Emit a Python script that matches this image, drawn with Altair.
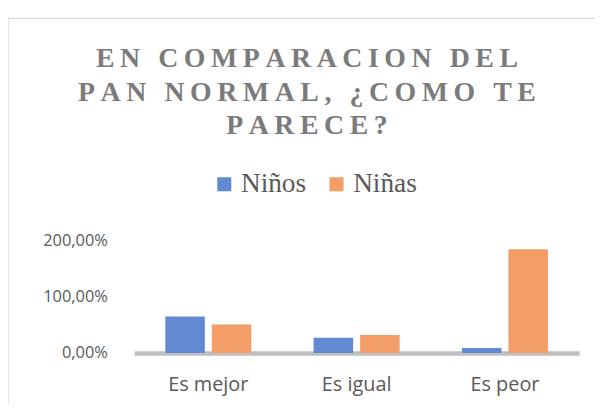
import altair as alt
import pandas as pd

categorias = ["Es mejor", "Es igual", "Es peor"]
series = ["Niños", "Niñas"]
ninos = [0.65, 0.27, 0.09]
ninas = [0.51, 0.32, 1.85]
ticks = [0, 1, 2]
titulo = ["EN COMPARACION DEL", "PAN NORMAL, ¿COMO TE", "PARECE?"]
colores = ["#628ad2", "#f29e66"]

TS = "\u2009"
def spaced(s):
    return TS.join(list(s))

rows = []
for c, a, b in zip(categorias, ninos, ninas):
    rows.append({"cat": c, "serie": series[0], "val": a})
    rows.append({"cat": c, "serie": series[1], "val": b})
df = pd.DataFrame(rows)
one = pd.DataFrame({"k": [0]})

border = alt.Chart(one).mark_rect(filled=False, stroke="#d9d9d9", strokeWidth=1.3).encode(
    x=alt.value(-127), x2=alt.value(620), y=alt.value(-224), y2=alt.value(300)
)

title = alt.Chart(one).mark_text(
    text=[spaced(t) for t in titulo],
    font="Liberation Serif", fontWeight="bold", fontSize=28, lineHeight=34,
    color="#7b7b7b", align="center", baseline="alphabetic"
).encode(x=alt.value(174), y=alt.value(-175))

bars = alt.Chart(df).mark_bar().encode(
    x=alt.X("cat:N", sort=categorias, title=None,
            scale=alt.Scale(paddingInner=0.42, paddingOuter=0.21),
            axis=alt.Axis(labelAngle=0, labelFont="Open Sans", labelFontSize=20,
                          labelColor="#595959", labelPadding=22, ticks=False,
                          domainColor="#bfbfbf", domainWidth=4.5)),
    xOffset=alt.XOffset("serie:N", sort=series,
                        scale=alt.Scale(paddingInner=0.15, paddingOuter=0)),
    y=alt.Y("val:Q", title=None, scale=alt.Scale(domain=[0, 2], nice=False),
            axis=alt.Axis(values=ticks, grid=False, domain=False, ticks=False,
                          labelFont="Open Sans", labelFontSize=16.5, labelColor="#595959",
                          labelPadding=27,
                          labelExpr="replace(format(datum.value, '.2%'), '.', ',')")),
    color=alt.Color("serie:N", sort=series,
                    scale=alt.Scale(domain=series, range=colores),
                    legend=alt.Legend(title=None, orient="none", direction="horizontal",
                                      legendX=77, legendY=-71,
                                      symbolType="square", symbolSize=200,
                                      symbolStrokeWidth=0,
                                      labelFont="Liberation Serif", labelFontSize=27.5,
                                      labelColor="#595959", labelOffset=3,
                                      columnPadding=16)),
)

chart = alt.layer(border, title, bars).properties(
    width=448, height=113,
    autosize=alt.AutoSizeParams(type="none"),
    padding={"left": 127, "top": 233, "right": 16, "bottom": 50},
).configure_view(stroke=None)

chart.save("out.html", embed_options={"renderer": "svg", "actions": False})
